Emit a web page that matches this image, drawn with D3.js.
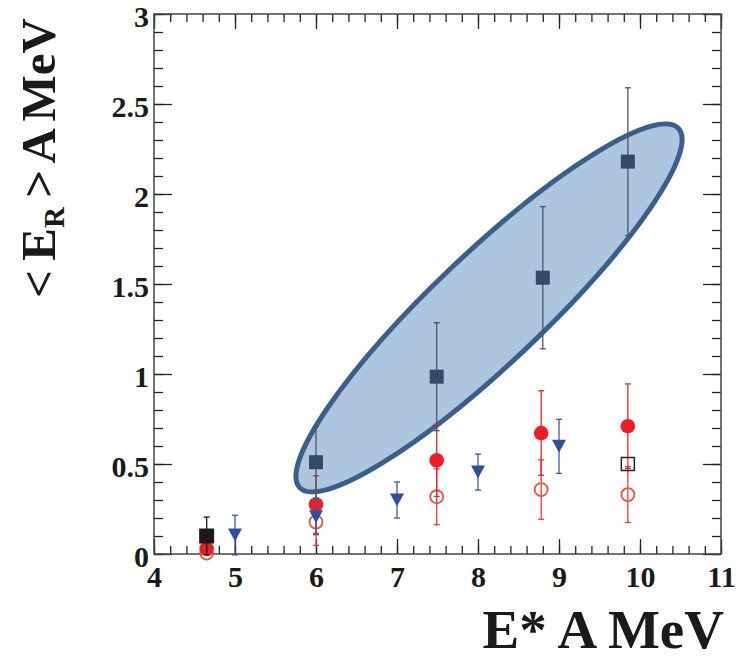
<!DOCTYPE html>
<html><head><meta charset="utf-8">
<script src="https://cdn.jsdelivr.net/npm/d3@7"></script>
<style>body{margin:0;background:#fff}</style>
</head><body><svg id="c" width="743" height="659"></svg>
<script>
// ---------- data ----------
const xTickValues = [4, 5, 6, 7, 8, 9, 10, 11];
const xTickLabels = ["4", "5", "6", "7", "8", "9", "10", "11"];
const yTickValues = [0, 0.5, 1, 1.5, 2, 2.5, 3];
const yTickLabels = ["0", "0.5", "1", "1.5", "2", "2.5", "3"];

const blackSqX = [4.65], blackSqY = [0.1], blackSqErr = [0.105];
const navyX = [6.0, 7.49, 8.8, 9.85];
const navyY = [0.51, 0.985, 1.535, 2.18];
const navyErr = [0.2, 0.3, 0.395, 0.41];
const redX = [4.65, 6.0, 7.49, 8.78, 9.85];
const redY = [0.03, 0.275, 0.52, 0.672, 0.71];
const redErr = [0, 0.16, 0.2, 0.235, 0.235];
const openX = [4.65, 6.0, 7.49, 8.78, 9.85];
const openY = [0.005, 0.178, 0.318, 0.358, 0.33];
const openErr = [0, 0.13, 0.155, 0.165, 0.155];
const triX = [5, 6, 7, 8, 9];
const triY = [0.105, 0.207, 0.3, 0.455, 0.598];
const triErr = [0.11, 0.1, 0.1, 0.1, 0.15];
const openSqX = [9.85], openSqY = [0.5];
const ellipseCenter = [8.136, 1.367];

// ---------- layout ----------
const L = 154, R = 721, T = 14, B = 554;
const x = d3.scaleLinear().domain([4, 11]).range([L, R]);
const y = d3.scaleLinear().domain([0, 3]).range([B, T]);
const svg = d3.select("#c");
svg.append("rect").attr("width", 743).attr("height", 659).attr("fill", "#fff");
const FONT = "'Liberation Serif','Times New Roman',serif";

// ellipse
svg.append("ellipse")
  .attr("cx", 0).attr("cy", 0).attr("rx", 261).attr("ry", 55)
  .attr("transform", `translate(${x(ellipseCenter[0])},${y(ellipseCenter[1])}) rotate(-43.5)`)
  .attr("fill", "#aec5df").attr("stroke", "#3a5f8c").attr("stroke-width", 5);

// axes
function styleAxis(g) {
  g.select(".domain").remove();
  g.selectAll("line").attr("stroke", "#222").attr("stroke-width", 1.3);
}
const xMinor = x.ticks(35), yMinor = y.ticks(30);
svg.append("g").attr("transform", `translate(0,${B})`)
  .call(d3.axisBottom(x).tickValues(xMinor).tickSize(-8).tickFormat(""))
  .call(styleAxis);
const gx = svg.append("g").attr("transform", `translate(0,${B})`)
  .call(d3.axisBottom(x).tickValues(xTickValues).tickSize(-15).tickSizeOuter(0).tickPadding(12)
        .tickFormat((d, i) => xTickLabels[i]))
  .call(styleAxis);
gx.selectAll("text").attr("font-family", FONT).attr("font-weight", "bold")
  .attr("font-size", 30).attr("fill", "#1a1a1a");
svg.append("g").attr("transform", `translate(0,${T})`)
  .call(d3.axisTop(x).tickValues(xMinor).tickSize(-8).tickFormat("")).call(styleAxis);
svg.append("g").attr("transform", `translate(0,${T})`)
  .call(d3.axisTop(x).tickValues(xTickValues).tickSize(-15).tickFormat("")).call(styleAxis);

svg.append("g").attr("transform", `translate(${L},0)`)
  .call(d3.axisLeft(y).tickValues(yMinor).tickSize(-9).tickFormat("")).call(styleAxis);
const gy = svg.append("g").attr("transform", `translate(${L},0)`)
  .call(d3.axisLeft(y).tickValues(yTickValues).tickSize(-18).tickPadding(5)
        .tickFormat((d, i) => yTickLabels[i]))
  .call(styleAxis);
gy.selectAll("text").attr("font-family", FONT).attr("font-weight", "bold")
  .attr("font-size", 30).attr("fill", "#1a1a1a").attr("dy", "0.42em");
svg.append("g").attr("transform", `translate(${R},0)`)
  .call(d3.axisRight(y).tickValues(yMinor).tickSize(-9).tickFormat("")).call(styleAxis);
svg.append("g").attr("transform", `translate(${R},0)`)
  .call(d3.axisRight(y).tickValues(yTickValues).tickSize(-18).tickFormat("")).call(styleAxis);

svg.append("rect").attr("x", L).attr("y", T).attr("width", R - L).attr("height", B - T)
  .attr("fill", "none").attr("stroke", "#444").attr("stroke-width", 1.5);

// error bars
function errBars(xs, ys, es, color, w) {
  const g = svg.append("g").attr("stroke", color).attr("stroke-width", w || 1.3);
  xs.forEach((xv, i) => {
    if (!es[i]) return;
    const px = x(xv), y1 = y(ys[i] - es[i]), y2 = y(ys[i] + es[i]);
    g.append("line").attr("x1", px).attr("x2", px).attr("y1", y1).attr("y2", y2);
    g.append("line").attr("x1", px - 3).attr("x2", px + 3).attr("y1", y1).attr("y2", y1);
    g.append("line").attr("x1", px - 3).attr("x2", px + 3).attr("y1", y2).attr("y2", y2);
  });
}

// open circles
errBars(openX, openY, openErr, "#ee3a33");
svg.append("g").selectAll("circle").data(openX).join("circle")
  .attr("cx", d => x(d)).attr("cy", (d, i) => y(openY[i])).attr("r", 6.5)
  .attr("fill", "none").attr("stroke", "#f0503c").attr("stroke-width", 1.8);

// filled red circles
errBars(redX, redY, redErr, "#e8232b");
svg.append("g").selectAll("circle").data(redX).join("circle")
  .attr("cx", d => x(d)).attr("cy", (d, i) => y(redY[i])).attr("r", 7.3)
  .attr("fill", "#ee1c25");

// triangles
errBars(triX, triY, triErr, "#3c5aa8");
svg.append("g").selectAll("path").data(triX).join("path")
  .attr("d", (d, i) => {
    const px = x(d), py = y(triY[i]);
    return `M${px - 7},${py - 6.5}L${px + 7},${py - 6.5}L${px},${py + 6.5}Z`;
  })
  .attr("fill", "#2f4fa0");

// squares
errBars(blackSqX, blackSqY, blackSqErr, "#1a1a1a");
svg.append("g").selectAll("rect").data(blackSqX).join("rect")
  .attr("x", d => x(d) - 7.5).attr("y", (d, i) => y(blackSqY[i]) - 7.5)
  .attr("width", 15).attr("height", 15).attr("fill", "#1a1a1a");
errBars(navyX, navyY, navyErr, "#4b5566");
svg.append("g").selectAll("rect").data(navyX).join("rect")
  .attr("x", d => x(d) - 7).attr("y", (d, i) => y(navyY[i]) - 7)
  .attr("width", 14).attr("height", 14).attr("fill", "#344a66");
svg.append("g").selectAll("rect").data(openSqX).join("rect")
  .attr("x", d => x(d) - 6.5).attr("y", (d, i) => y(openSqY[i]) - 6.5)
  .attr("width", 13).attr("height", 13).attr("fill", "none")
  .attr("stroke", "#222").attr("stroke-width", 1.5);

// titles
svg.append("text").attr("x", 724).attr("y", 648).attr("text-anchor", "end")
  .attr("font-family", FONT).attr("font-weight", "bold").attr("font-size", 55)
  .attr("fill", "#1a1a1a").text("E* A MeV");

const yt = svg.append("text").attr("transform", "translate(55,158) rotate(-90)")
  .attr("text-anchor", "middle").attr("font-family", FONT).attr("font-weight", "bold")
  .attr("font-size", 49).attr("word-spacing", -3).attr("fill", "#1a1a1a");
yt.append("tspan").text("< E");
yt.append("tspan").attr("font-size", 29).attr("dy", 9).text("R");
yt.append("tspan").attr("dy", -9).text(" > A MeV");
</script></body></html>
